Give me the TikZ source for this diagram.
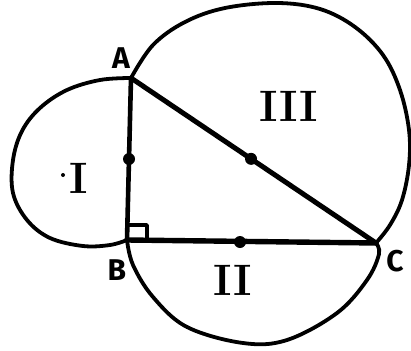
\documentclass[tikz,border=0pt]{standalone}
\usepackage{fontspec}
\newfontfamily\lblfont{Fira Sans}
\usetikzlibrary{calc}
\begin{document}
\begin{tikzpicture}[x=1pt,y=-1pt,
  arcline/.style={line width=3.8pt,line cap=round,line join=round},
  side/.style={line width=4.6pt,line cap=round},
  middot/.style={circle,fill=black,inner sep=0pt,minimum size=12pt},
  vlabel/.style={font=\lblfont\bfseries\fontsize{30}{30}\selectfont,inner sep=0pt},
  rlabel/.style={font=\bfseries\fontsize{44}{44}\selectfont,inner sep=0pt}]
\useasboundingbox (0,0) rectangle (411,350);
\coordinate (A) at (131,78);
\coordinate (B) at (127,240);
\coordinate (C) at (376,243);
% semicircle I on AB
\draw[arcline] plot[smooth,tension=0.6] coordinates {(131,78) (100,80) (67,90) (40,108) (22,131) (13,160) (13,193) (27,220) (50,238) (83,246) (110,245) (127,240)};
% semicircle II on BC
\draw[arcline] plot[smooth,tension=0.6] coordinates {(127,240) (133,265) (153,297) (187,327) (243,343) (287,340) (337,313) (367,280) (379,254) (376,243)};
% semicircle III on AC
\draw[arcline] plot[smooth,tension=0.6] coordinates {(131,78) (153,45) (185,22) (225,8) (277,3) (320,9) (355,27) (383,55) (400,90) (409,130) (409,165) (402,200) (390,225) (376,243)};
% triangle
\draw[side] (A) -- (B);
\draw[side,line width=5.4pt] (B) -- (C);
\draw[side,line width=5pt] (A) -- (C);
% right angle
\coordinate (R1) at (127,225);
\coordinate (R2) at (147,225);
\coordinate (R3) at (147,241);
\draw[line width=3.4pt,line join=round] (R1) -- (R2) -- (R3);
% midpoints
\node[middot] (MAB) at ($(A)!0.5!(B)$) {};
\node[middot] (MBC) at (240,242) {};
\node[middot] (MAC) at ($(A)!0.49!(C)$) {};
% labels
\node[vlabel] (LA) at (121,58) {A};
\node[vlabel] (LB) at (117,270) {B};
\node[vlabel] (LC) at (395,261) {C};
\node[rlabel] (L1) at (79,178) {I};
\node[circle,fill=black,inner sep=0pt,minimum size=4pt] (L1dot) at (63,175) {};
\node[rlabel] (L2) at (233,280) {II};
\node[rlabel] (L3) at (289,106) {III};
\end{tikzpicture}
\end{document}
